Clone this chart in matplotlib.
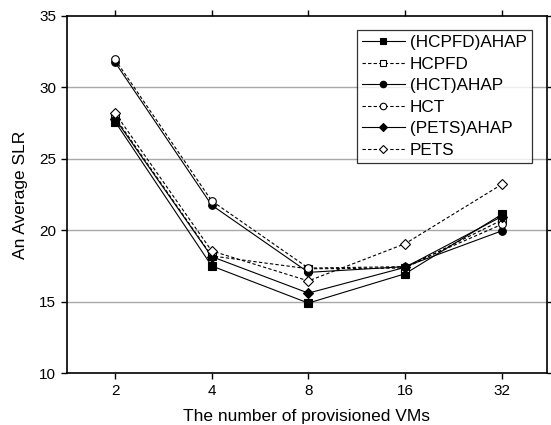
import matplotlib
matplotlib.use("Agg")
import matplotlib.pyplot as plt

plt.rcParams['font.family'] = ['Liberation Sans', 'DejaVu Sans']

vms = ['2', '4', '8', '16', '32']
hcpfd_ahap = [27.6, 17.5, 14.9, 16.95, 21.1]
hcpfd = [27.9, 18.2, 17.3, 17.35, 20.7]
hct_ahap = [31.75, 21.75, 17.05, 17.45, 19.95]
hct = [31.95, 22.05, 17.35, 17.45, 20.4]
pets_ahap = [27.8, 18.15, 15.6, 17.4, 20.95]
pets = [28.2, 18.55, 16.45, 19.05, 23.2]

fig = plt.figure(figsize=(5.51, 4.25), dpi=100)
ax = fig.add_axes([0.121, 0.122, 0.872, 0.841])

x = list(range(len(vms)))
dash = (0, (3, 2))
ms = 5.5
series = [
    ('(HCPFD)AHAP', hcpfd_ahap, 's', 'black', '-'),
    ('HCPFD', hcpfd, 's', 'white', dash),
    ('(HCT)AHAP', hct_ahap, 'o', 'black', '-'),
    ('HCT', hct, 'o', 'white', dash),
    ('(PETS)AHAP', pets_ahap, 'D', 'black', '-'),
    ('PETS', pets, 'D', 'white', dash),
]
for name, vals, mk, fc, ls in series:
    size = ms - 0.8 if mk == 'D' else ms
    ax.plot(x, vals, linestyle=ls, color='black', linewidth=0.8,
            marker=mk, markersize=size, markerfacecolor=fc,
            markeredgecolor='black', markeredgewidth=0.8, label=name)

ax.set_xlim(-0.5, 4.47)
ax.set_ylim(10, 35)
ax.set_xticks(x)
ax.set_xticklabels(vms)
ax.set_yticks([10, 15, 20, 25, 30, 35])
for yv in [15, 20, 25, 30]:
    ax.axhline(yv, color='#a8a8a8', linewidth=1.0, zorder=0)

ax.tick_params(axis='both', labelsize=11, direction='out', length=4, width=1)
ax.tick_params(top=True, right=True)
for s in ax.spines.values():
    s.set_linewidth(1.2)

ax.set_xlabel('The number of provisioned VMs', fontsize=12.5, labelpad=8)
ax.set_ylabel('An Average SLR', fontsize=12.5, labelpad=8)

leg = ax.legend(loc='upper right', bbox_to_anchor=(0.968, 0.96), fontsize=12.3,
                handlelength=2.5, handletextpad=0.3, labelspacing=0.38,
                borderpad=0.3, frameon=True, fancybox=False, borderaxespad=0.0,
                markerscale=0.85)
leg.get_frame().set_edgecolor('black')
leg.get_frame().set_linewidth(0.9)

fig.savefig('out.png', dpi=100)
